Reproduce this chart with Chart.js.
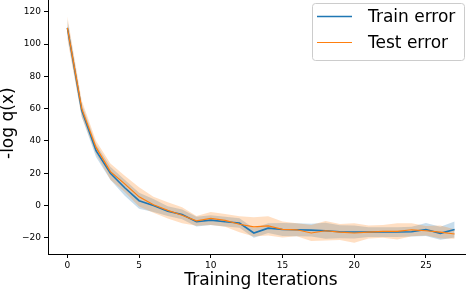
<!DOCTYPE html>
<html>
<head>
<meta charset="utf-8">
<script src="https://cdn.jsdelivr.net/npm/chart.js@4"></script>
<style>
  html, body { margin: 0; padding: 0; background: #fff; overflow: hidden; }
  /* the axes run a little past the top and right edge of the picture */
  #wrap { width: 466px; height: 290px; overflow: hidden; position: relative; }
  #chart { position: absolute; left: 0; top: -16px; }
</style>
</head>
<body>
<div id="wrap"><canvas id="chart" width="474" height="306"></canvas></div>
<script>
// Data
const iterations = [0, 1, 2, 3, 4, 5, 6, 7, 8, 9, 10, 11, 12, 13, 14, 15, 16, 17, 18, 19, 20, 21, 22, 23, 24, 25, 26, 27];
const trainMean = [110, 59, 34, 20, 11, 3, 0, -3.5, -5.5, -10, -9, -10, -10.8, -17, -14, -14.8, -15, -15.2, -15.6, -16.2, -16.4, -16.4, -16.4, -16.4, -16.2, -14.8, -17.2, -14.8];
const trainStd = [5, 4, 4, 4, 5, 5, 4, 3, 3, 3, 3, 3, 3, 3, 3, 4, 4, 4, 5, 4, 4, 3, 3, 3, 3, 4, 4, 5];
const testMean = [110, 60, 36, 21, 13.4, 5.4, 0.5, -3, -6, -9.5, -8, -9.2, -11.6, -13.2, -12.6, -14.8, -15, -17, -15.6, -16.4, -17, -16.4, -16, -16, -15, -15.6, -16.4, -17.6];
const testStd = [7, 5, 4, 5, 5, 6, 5, 5, 5, 3, 4, 4, 5, 6, 6, 5, 4, 5, 6, 5, 6, 4, 4, 5, 4, 3, 4, 3];
const xTicks = [0, 5, 10, 15, 20, 25];
const yTicks = [-20, 0, 20, 40, 60, 80, 100, 120];

const BLUE = '#1f77b4';
const ORANGE = '#ff7f0e';
const SHIFT_Y = 16; // canvas sits 16px above the page

function points(values) {
    return iterations.map((x, i) => ({ x: x, y: values[i] }));
}
function band(mean, std, sign) {
    return iterations.map((x, i) => ({ x: x, y: mean[i] + sign * std[i] }));
}

// matplotlib style minus sign
function fmt(v) {
    return v < 0 ? '\u2212' + Math.abs(v) : String(v);
}

// Legend box in the top right corner, drawn like matplotlib's
const boxLegend = {
    id: 'boxLegend',
    afterDraw(chart) {
        const ctx = chart.ctx;
        const items = chart.data.datasets.filter(d => d.label).sort((a, b) => a.legendRank - b.legendRank);
        ctx.save();
        ctx.translate(0, SHIFT_Y);
        ctx.fillStyle = 'rgba(255,255,255,0.8)';
        ctx.strokeStyle = '#cccccc';
        ctx.lineWidth = 1;
        ctx.beginPath();
        ctx.roundRect(312.5, 3.5, 152, 57, 3);
        ctx.fill();
        ctx.stroke();
        ctx.font = '17px "DejaVu Sans"';
        ctx.textBaseline = 'alphabetic';
        items.forEach((d, i) => {
            const y = 16.5 + i * 26;
            ctx.strokeStyle = d.borderColor;
            ctx.lineWidth = d.borderWidth;
            ctx.beginPath();
            ctx.moveTo(317, y);
            ctx.lineTo(352, y);
            ctx.stroke();
            ctx.fillStyle = '#000';
            ctx.fillText(d.label, 368, y + 5.5);
        });
        ctx.restore();
    }
};

new Chart(document.getElementById('chart'), {
    type: 'line',
    data: {
        datasets: [
            { label: 'Test error', legendRank: 1, data: points(testMean), borderColor: ORANGE, borderWidth: 1.2, pointRadius: 0, fill: false },
            { label: 'Train error', legendRank: 0, data: points(trainMean), borderColor: BLUE, borderWidth: 1.6, pointRadius: 0, fill: false },
            { data: band(testMean, testStd, 1), borderWidth: 0, pointRadius: 0, fill: 3, backgroundColor: 'rgba(255,127,14,0.25)' },
            { data: band(testMean, testStd, -1), borderWidth: 0, pointRadius: 0, fill: false },
            { data: band(trainMean, trainStd, 1), borderWidth: 0, pointRadius: 0, fill: 5, backgroundColor: 'rgba(31,119,180,0.25)' },
            { data: band(trainMean, trainStd, -1), borderWidth: 0, pointRadius: 0, fill: false }
        ]
    },
    options: {
        responsive: false,
        animation: false,
        events: [],
        layout: { autoPadding: false, padding: 0 },
        elements: { line: { tension: 0 } },
        plugins: {
            legend: { display: false },
            tooltip: { enabled: false }
        },
        scales: {
            x: {
                type: 'linear',
                min: -1.35,
                max: 28.35,
                afterFit(scale) { scale.height = 36; },
                afterBuildTicks(scale) { scale.ticks = xTicks.map(v => ({ value: v })); },
                grid: { drawOnChartArea: false, tickLength: 4, tickColor: '#000' },
                border: { color: '#000', width: 1 },
                ticks: {
                    font: { family: 'DejaVu Sans', size: 9 },
                    color: '#000',
                    padding: 2,
                    maxRotation: 0,
                    callback: v => fmt(v)
                },
                title: {
                    display: true,
                    text: 'Training Iterations',
                    font: { family: 'DejaVu Sans', size: 17, lineHeight: 1 },
                    color: '#000',
                    padding: { top: 0, bottom: 1 }
                }
            },
            y: {
                min: -30,
                max: 132,
                afterFit(scale) { scale.width = 48; },
                afterBuildTicks(scale) { scale.ticks = yTicks.map(v => ({ value: v })); },
                grid: { drawOnChartArea: false, tickLength: 4, tickColor: '#000' },
                border: { color: '#000', width: 1 },
                ticks: {
                    font: { family: 'DejaVu Sans', size: 9 },
                    color: '#000',
                    padding: 3,
                    callback: v => fmt(v)
                },
                title: {
                    display: true,
                    text: '-log q(x)',
                    font: { family: 'DejaVu Sans', size: 17, lineHeight: 1 },
                    color: '#000',
                    padding: { top: 0, bottom: 0 }
                }
            }
        }
    },
    plugins: [boxLegend]
});
</script>
</body>
</html>
